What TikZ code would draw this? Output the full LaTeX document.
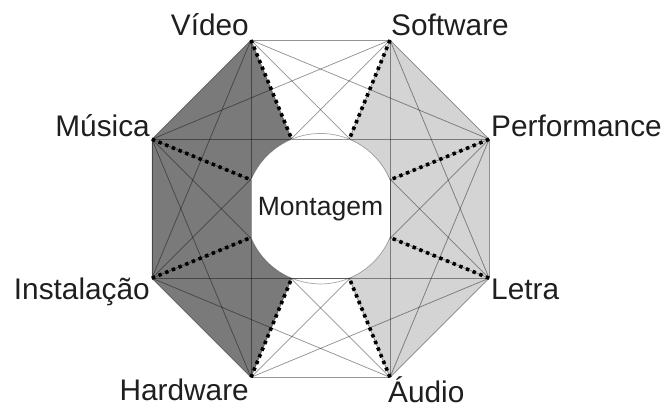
\documentclass[tikz,border=0pt]{standalone}
\usepackage{fontspec}
\setmainfont{Liberation Sans}
\definecolor{darkfill}{gray}{0.48}
\definecolor{lightfill}{gray}{0.83}
\definecolor{labtext}{gray}{0.12}
\begin{document}
\begin{tikzpicture}[x=1pt,y=1pt,
  lab/.style={inner sep=0pt, font=\fontsize{29.8}{32}\selectfont, text=labtext},
  web/.style={draw=black, draw opacity=0.42, line width=0.75pt},
  dots/.style={draw=black, line width=3.6pt, dash pattern=on 3.4pt off 3.8pt},
  rim/.style={draw=black, draw opacity=0.35, line width=0.7pt}]
\useasboundingbox (0,0) rectangle (668,408);
% centre and octagon vertices
\coordinate (C) at (320.5,199.3);
\coordinate (V) at (251,367.9);
\coordinate (S) at (390,367.9);
\coordinate (P) at (489.1,268.8);
\coordinate (L) at (489.1,129.8);
\coordinate (A) at (390,30.7);
\coordinate (H) at (251,30.7);
\coordinate (I) at (151.9,129.8);
\coordinate (M) at (151.9,268.8);
% points on the inner circle
\coordinate (eV) at (291.7,268.8);
\coordinate (eS) at (349.3,268.8);
\coordinate (eP) at (390,228.1);
\coordinate (eL) at (390,170.5);
\coordinate (eA) at (349.3,129.8);
\coordinate (eH) at (291.7,129.8);
\coordinate (eI) at (251,170.5);
\coordinate (eM) at (251,228.1);
% shaded halves
\fill[darkfill] (V) -- (M) -- (I) -- (H) -- (eH) arc[start angle=247.5,end angle=202.5,radius=75.2] -- (eM) arc[start angle=157.5,end angle=112.5,radius=75.2] -- cycle;
\fill[lightfill] (S) -- (P) -- (L) -- (A) -- (eA) arc[start angle=292.5,end angle=337.5,radius=75.2] -- (eP) arc[start angle=22.5,end angle=67.5,radius=75.2] -- cycle;
% complete web of connections
\foreach \a/\b in {V/S,V/P,V/L,V/A,V/H,V/I,V/M,
                   S/P,S/L,S/A,S/H,S/I,S/M,
                   P/L,P/A,P/H,P/I,P/M,
                   L/A,L/H,L/I,L/M,
                   A/H,A/I,A/M,
                   H/I,H/M,
                   I/M}
  \draw[web] (\a) -- (\b);
% white centre
\fill[white] (eV) arc[start angle=112.5,end angle=157.5,radius=75.2] -- (eI) arc[start angle=202.5,end angle=247.5,radius=75.2] -- (eA) arc[start angle=292.5,end angle=337.5,radius=75.2] -- (eP) arc[start angle=22.5,end angle=67.5,radius=75.2] -- cycle;
\draw[web] (eM) -- (eI);
\draw[web] (eP) -- (eL);
\draw[web] (eV) -- (eS);
\draw[web] (eH) -- (eA);
\draw[rim] (eP) arc[start angle=22.5,end angle=157.5,radius=75.2];
\draw[rim] (eI) arc[start angle=202.5,end angle=337.5,radius=75.2];
% dotted radial lines
\foreach \v in {V,S,P,L,A,H,I,M}
  \draw[dots] (\v) -- (e\v);
% labels
\node[lab, anchor=base east] (tV) at (249,372) {Vídeo};
\node[lab, anchor=base west] (tS) at (391,372) {Software};
\node[lab, anchor=base east] (tM) at (150,271.5) {Música};
\node[lab, anchor=base west] (tP) at (491,271.5) {Performance};
\node[lab, anchor=base east] (tI) at (150,109) {Instalação};
\node[lab, anchor=base west] (tL) at (491,109) {Letra};
\node[lab, anchor=base east] (tH) at (249,8) {Hardware};
\node[lab, anchor=base west] (tA) at (388,6) {Áudio};
\node[lab, anchor=base, font=\fontsize{26.5}{28}\selectfont] (tC) at (320.5,193) {Montagem};
\end{tikzpicture}
\end{document}
